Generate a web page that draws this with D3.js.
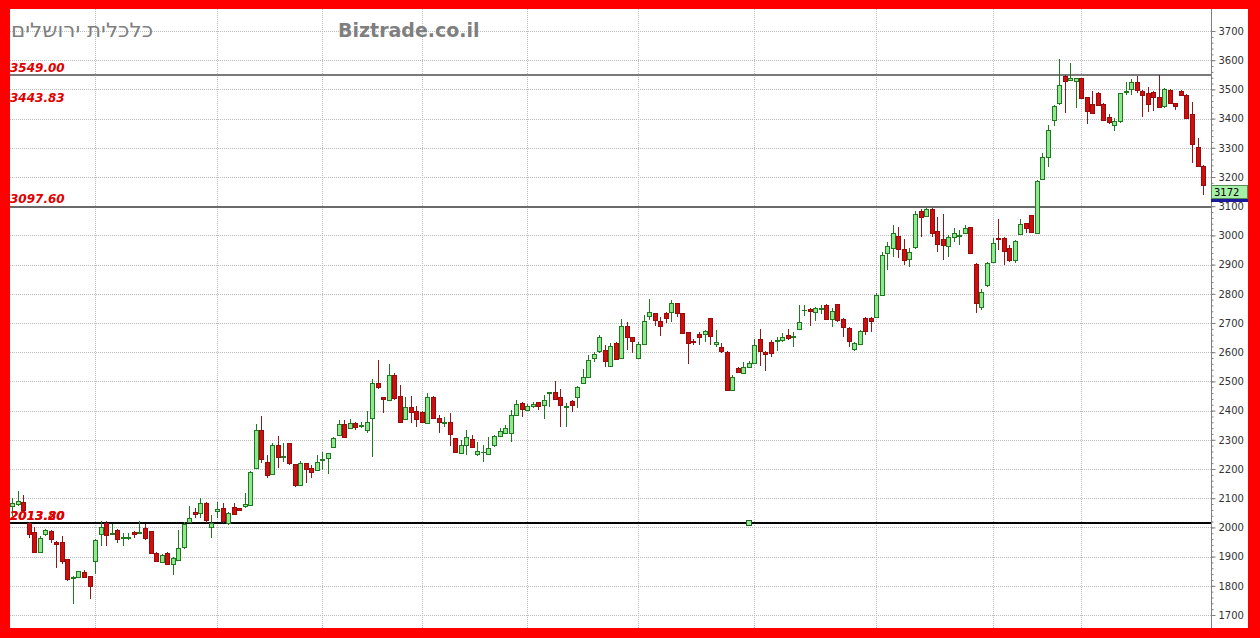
<!DOCTYPE html>
<html><head><meta charset="utf-8">
<script src="https://cdn.jsdelivr.net/npm/d3@7"></script>
<style>body{margin:0;background:#fff}svg{display:block}</style>
</head><body>
<svg id="c" width="1260" height="638"></svg>
<script>
const opens = [2075,2080,2088,2016,1985,1917,1975,1986,1950,1950,1892,1826,1829,1847,1832,1886,1980,2014,1978,1991,
1965,1965,1985,1980,1997,1986,1914,1883,1914,1876,1889,1931,2020,2054,2048,2082,2003,2056,2065,2014,
2071,2065,2073,2079,2202,2333,2225,2183,2282,2242,2288,2217,2145,2219,2205,2199,2228,2236,2273,2316,
2354,2343,2359,2345,2336,2373,2493,2445,2438,2522,2451,2370,2411,2400,2396,2356,2445,2373,2358,2360,
2305,2256,2282,2303,2251,2256,2251,2282,2314,2324,2324,2385,2427,2405,2416,2428,2419,2460,2465,2448,
2413,2434,2448,2493,2516,2582,2602,2607,2553,2633,2579,2690,2651,2579,2628,2727,2733,2708,2735,2735,
2767,2733,2668,2638,2662,2665,2716,2628,2617,2602,2473,2545,2530,2550,2562,2644,2602,2636,2640,2642,
2659,2651,2682,2745,2748,2739,2748,2762,2714,2764,2714,2684,2608,2630,2718,2718,2722,2796,2939,2959,
2998,2952,2921,2961,3085,3066,3089,3016,2987,2961,2993,3000,3007,3028,2902,2754,2830,2910,2990,2992,
2958,2916,3004,3041,3070,3009,3195,3267,3395,3452,3546,3530,3527,3538,3473,3450,3489,3450,3404,3378,
3389,3494,3504,3527,3496,3486,3492,3475,3441,3498,3452,3496,3481,3416,3302,3238];
const highs = [2100,2125,2110,2018,2000,1972,1995,1990,1952,1970,1893,1832,1852,1855,1834,1960,2022,2022,2012,1993,
1980,1980,1987,2022,2013,1988,1916,1909,1916,1900,1991,2017,2074,2068,2100,2088,2042,2088,2082,2054,
2082,2066,2117,2193,2354,2381,2248,2288,2313,2290,2290,2218,2228,2221,2214,2248,2259,2256,2308,2368,
2368,2370,2362,2362,2400,2507,2573,2447,2560,2528,2488,2445,2450,2416,2398,2461,2450,2385,2379,2391,
2306,2299,2334,2316,2294,2282,2311,2316,2339,2351,2402,2436,2431,2423,2431,2429,2453,2465,2502,2473,
2425,2435,2484,2541,2590,2602,2659,2625,2633,2636,2713,2702,2653,2636,2727,2781,2735,2722,2739,2779,
2768,2735,2669,2644,2668,2676,2717,2676,2630,2604,2522,2550,2568,2571,2644,2678,2605,2642,2653,2665,
2678,2670,2762,2762,2750,2756,2762,2765,2750,2766,2716,2688,2636,2676,2722,2719,2802,2944,2978,3036,
3028,2987,2956,3085,3089,3093,3093,3064,3073,3001,3024,3018,3036,3030,2904,2815,2910,2990,3056,2996,
2967,2985,3056,3044,3070,3189,3281,3378,3447,3603,3548,3589,3540,3540,3475,3496,3490,3452,3416,3401,
3489,3527,3535,3546,3497,3507,3493,3549,3504,3500,3455,3498,3484,3458,3332,3240];
const lows = [2040,2075,2058,1962,1915,1915,1970,1945,1862,1876,1818,1738,1826,1826,1756,1840,1935,1935,1975,1947,
1935,1958,1965,1978,1958,1910,1884,1878,1873,1837,1887,1925,2014,2032,2031,2014,1962,2031,2014,2008,
2042,2057,2065,2077,2199,2222,2168,2179,2202,2225,2214,2137,2143,2151,2168,2196,2196,2183,2271,2313,
2305,2340,2333,2340,2324,2242,2473,2391,2436,2438,2360,2368,2359,2343,2359,2354,2370,2324,2345,2280,
2254,2251,2248,2271,2245,2225,2250,2277,2311,2320,2294,2381,2377,2400,2408,2402,2370,2413,2436,2343,
2343,2396,2408,2491,2514,2568,2598,2550,2550,2573,2577,2608,2598,2576,2625,2710,2690,2657,2699,2705,
2722,2665,2560,2625,2625,2636,2625,2619,2596,2468,2470,2530,2528,2548,2560,2553,2537,2585,2605,2636,
2642,2619,2676,2725,2691,2708,2731,2710,2688,2705,2653,2619,2604,2627,2659,2668,2716,2793,2882,2927,
2921,2899,2891,2952,2996,3064,2996,2944,2916,2927,2978,2967,3005,2936,2733,2745,2825,2907,2950,2898,
2910,2904,3001,3009,3009,3007,3192,3233,3375,3447,3420,3528,3435,3466,3381,3418,3443,3393,3381,3358,
3386,3481,3481,3487,3407,3424,3427,3438,3438,3450,3429,3480,3398,3249,3235,3138];
const closes = [2085,2090,2062,1978,1917,1965,1990,1958,1944,1886,1822,1830,1849,1829,1798,1957,2003,1974,1982,1961,
1968,1967,1978,1984,1964,1912,1886,1906,1876,1895,1931,2011,2033,2047,2082,2025,2016,2062,2020,2048,
2046,2059,2080,2191,2333,2233,2179,2282,2242,2245,2220,2145,2219,2197,2191,2225,2233,2254,2305,2354,
2308,2359,2345,2350,2362,2493,2480,2437,2522,2442,2362,2411,2393,2374,2362,2445,2373,2359,2360,2319,
2256,2282,2311,2277,2262,2257,2273,2313,2331,2342,2385,2423,2408,2417,2422,2416,2436,2463,2442,2420,
2415,2419,2482,2514,2573,2594,2651,2568,2621,2579,2690,2653,2636,2628,2708,2739,2708,2690,2719,2767,
2733,2665,2630,2636,2651,2674,2656,2636,2602,2471,2516,2533,2550,2562,2625,2602,2594,2598,2642,2651,
2648,2654,2705,2746,2741,2753,2751,2714,2741,2710,2688,2638,2630,2673,2673,2707,2796,2933,2964,3009,
2952,2916,2944,3073,3064,3089,3007,2973,2967,2993,3007,3003,3024,2939,2767,2807,2907,2975,2985,2947,
2916,2981,3038,3024,3013,3187,3270,3361,3443,3515,3530,3538,3538,3469,3424,3420,3447,3395,3386,3393,
3486,3496,3527,3498,3481,3447,3475,3441,3500,3452,3443,3481,3401,3313,3238,3172];

const yTickValues = d3.range(1700, 3701, 100);
const yMinorValues = d3.range(1700, 3701, 20);
const monthStartIdx = [15,37,56,74,93,113,134,156,177,193];
const lineLevels = [3549.00, 3097.60, 2013.80];
const labelValues = [3549.00, 3443.83, 3097.60, 2013.80, 2013.20];
const labelTexts = ["3549.00","3443.83","3097.60","2013.80","2013.20"];
const anchorIdx = 133;
const anchorValue = 2013.80;
const lastPrice = 3172;
const titleHe = "כלכלית ירושלים";
const titleSite = "Biztrade.co.il";

const W = 1260, H = 638;
const plotL = 10, plotT = 9, plotB = 628, axisX = 1211, frameR = 1248;
const svg = d3.select("#c");
svg.append("rect").attr("width", W).attr("height", H).attr("fill", "#ff0000");
svg.append("rect").attr("x", plotL).attr("y", plotT).attr("width", frameR - plotL).attr("height", plotB - plotT).attr("fill", "#ffffff");

const n = opens.length;
const x = d3.scaleLinear().domain([0, n - 1]).range([12, 12 + 5.54 * (n - 1)]);
const y = d3.scaleLinear().domain([1700, 3700]).range([615, 31]);
const px = v => Math.round(v) + 0.5;

// grid
const grid = svg.append("g").attr("shape-rendering", "crispEdges");
grid.selectAll("line.h").data(yTickValues).join("line")
  .attr("x1", plotL).attr("x2", axisX)
  .attr("y1", d => px(y(d))).attr("y2", d => px(y(d)))
  .attr("stroke", "#bcbcbc").attr("stroke-dasharray", "1,1");
grid.selectAll("line.v").data(monthStartIdx).join("line")
  .attr("x1", d => px(x(d))).attr("x2", d => px(x(d)))
  .attr("y1", plotT).attr("y2", plotB)
  .attr("stroke", "#bcbcbc").attr("stroke-dasharray", "1,1");

// level lines
const levelColors = ["#7a7a7a", "#6a6a6a", "#000000"];
svg.append("g").selectAll("line").data(lineLevels).join("line")
  .attr("x1", plotL).attr("x2", axisX)
  .attr("y1", d => Math.round(y(d))).attr("y2", d => Math.round(y(d)))
  .attr("stroke", (d, i) => levelColors[i]).attr("stroke-width", 2)
  .attr("shape-rendering", "crispEdges");

// candles
const idx = d3.range(n);
const cg = svg.append("g").attr("shape-rendering", "crispEdges");
const up = i => closes[i] >= opens[i];
cg.selectAll("line").data(idx).join("line")
  .attr("x1", i => px(x(i))).attr("x2", i => px(x(i)))
  .attr("y1", i => y(highs[i])).attr("y2", i => y(lows[i]))
  .attr("stroke", i => up(i) ? "#1f7a1f" : "#8c1a1a");
cg.selectAll("rect").data(idx).join("rect")
  .attr("x", i => Math.round(x(i)) - 2 + 0.5)
  .attr("width", 4)
  .attr("y", i => Math.round(y(Math.max(opens[i], closes[i]))) + 0.5)
  .attr("height", i => Math.max(0.01, Math.round(Math.abs(y(opens[i]) - y(closes[i])))))
  .attr("fill", i => up(i) ? "#8fe88f" : "#cc0f0f")
  .attr("stroke", i => up(i) ? "#1f7a1f" : "#9a0a0a");

// anchor square
svg.append("rect")
  .attr("x", Math.round(x(anchorIdx)) - 3 + 0.5).attr("y", Math.round(y(anchorValue)) - 3 + 0.5)
  .attr("width", 5).attr("height", 5)
  .attr("fill", "#9be89b").attr("stroke", "#1f5f1f").attr("shape-rendering", "crispEdges");

// level labels
svg.append("g").selectAll("text").data(labelValues).join("text")
  .attr("x", 10).attr("y", d => y(d) - 3.5)
  .attr("fill", "#e00000").attr("font-family", "DejaVu Sans").attr("font-weight", "bold")
  .attr("font-style", "italic").attr("font-size", 12)
  .text((d, i) => labelTexts[i]);

// right axis
svg.append("line").attr("x1", axisX + 0.5).attr("x2", axisX + 0.5).attr("y1", plotT).attr("y2", plotB)
  .attr("stroke", "#808080");
const minorAx = d3.axisRight(y).tickValues(yMinorValues).tickSize(2).tickFormat("").tickSizeOuter(0);
svg.append("g").attr("transform", `translate(${axisX + 0.5},0)`).call(minorAx)
  .call(g => g.select(".domain").remove())
  .call(g => g.selectAll("line").attr("stroke", "#808080"));
const ax = d3.axisRight(y).tickValues(yTickValues).tickSize(4).tickPadding(3).tickSizeOuter(0).tickFormat(d3.format("d"));
svg.append("g").attr("transform", `translate(${axisX + 0.5},0)`).call(ax)
  .call(g => g.select(".domain").remove())
  .call(g => g.selectAll("line").attr("stroke", "#808080"))
  .call(g => g.selectAll("text").attr("fill", "#333").attr("font-family", "DejaVu Sans").attr("font-size", 10));

// last price tag
const tagTop = Math.round(y(lastPrice));
svg.append("rect").attr("x", axisX + 0.5).attr("y", tagTop + 0.5).attr("width", frameR - axisX - 1).attr("height", 13)
  .attr("fill", "#a6f0a6").attr("stroke", "#5a8a5a").attr("shape-rendering", "crispEdges");
svg.append("text").attr("x", axisX + 3).attr("y", tagTop + 11)
  .attr("font-family", "DejaVu Sans").attr("font-size", 10).attr("fill", "#000").text(d3.format("d")(lastPrice));
svg.append("rect").attr("x", axisX).attr("y", tagTop + 14).attr("width", frameR - axisX).attr("height", 3)
  .attr("fill", "#1a1a9a");

// titles
svg.append("text").attr("x", 11).attr("y", 37).attr("font-family", "DejaVu Sans").attr("font-size", 20)
  .attr("textLength", 142).attr("lengthAdjust", "spacingAndGlyphs")
  .attr("fill", "#7f7f7f").text(titleHe);
svg.append("text").attr("x", 338).attr("y", 37).attr("font-family", "DejaVu Sans").attr("font-weight", "bold")
  .attr("font-size", 19).attr("fill", "#7f7f7f").text(titleSite);
</script>
</body></html>
